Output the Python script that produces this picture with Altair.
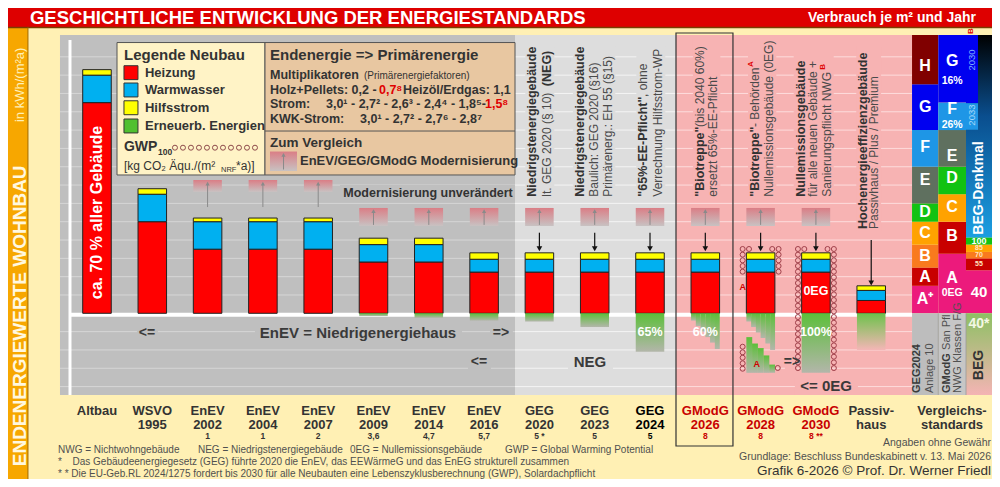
import altair as alt
import pandas as pd

FONT = "Liberation Sans"
DARK = "#333333"

# ------------------------------------------------------------------ data
slots = list(range(15))
label_top = ["Altbau", "WSVO", "EnEV", "EnEV", "EnEV", "EnEV", "EnEV", "EnEV",
             "GEG", "GEG", "GEG", "GModG", "GModG", "GModG", "Passiv-"]
label_bottom = ["", "1995", "2002", "2004", "2007", "2009", "2014", "2016",
                "2020", "2023", "2024", "2026", "2028", "2030", "haus"]
label_note = ["", "", "1", "1", "2", "3,6", "4,7", "5,7", "5 *", "5", "5", "8", "8", "8 **", ""]
label_color = [DARK] * 10 + ["#000000"] + ["#C80000"] * 3 + [DARK]

heizung = [230, 100, 70, 70, 70, 56, 56, 45, 45, 45, 45, 45, 45, 45, 14]
warmwasser = [30, 30, 30, 30, 30, 19, 19, 14, 14, 14, 14, 14, 14, 14, 11]
hilfsstrom = [6, 6, 4, 4, 4, 7, 7, 7, 7, 7, 7, 7, 7, 7, 5]
erneuerbar = [0, 0, 0, 0, 0, -3, -5, -8, -9, -15, -42, 0, 0, -65, -40]
stair_2026 = [-8, -14, -20, -26, -32, -39]
stair_2028 = [-9, -15, -21, -27, -33, -40]
stair_2028_low_top = [-26, -33, -38, -46, -56]
stair_2028_low_bottom = -65
ee_labels = [(10, "65%"), (11, "60%"), (13, "100%")]
gwp_rings = {12: 5, 13: 22}
modern_high = [2, 3, 4]
modern_low = [5, 6, 7, 8, 9, 10, 11, 12, 13]
arrow_slots = [8, 9, 10, 11, 12, 13]

geg_bounds = [0, 30, 50, 75, 100, 120, 160, 200, 250, 303.8]
geg_colors = ["#EC1A7C", "#C80000", "#F97A1E", "#FFA200", "#12C212", "#5F705F", "#1E96E6", "#0000F0", "#800000"]
geg_labels = ["A⁺", "A", "B", "C", "D", "E", "F", "G", "H"]
geg_label_y = [16, 40, 63, 88, 111, 146, 182, 225, 270]

gmodg_bounds = [0, 65, 100, 130, 160, 200, 230, 303.8]
gmodg_colors = ["#EC1A7C", "#C80000", "#FFA200", "#12C212", "#5F705F", "#1E96E6", "#0000F0"]
gmodg_labels = ["A", "B", "C", "D", "E", "F", "G"]
gmodg_label_y = [39, 84, 116, 148, 172, 222.5, 275]
gmodg_sub = [("0EG", 22.5), ("26%", 205.5), ("16%", 254)]

beg_bounds = [0, 47, 60, 67, 75, 82.5]
beg_colors = ["#EC1A7C", "#C80000", "#F97A1E", "#FFA200", "#12C212"]
beg_labels = ["40", "55", "70", "85", "100"]
beg_label_y = [23.3, 53.8, 63.6, 71, 78.8]

grid_values = [-80, -60, -40, -20, 20, 40, 60, 80, 100, 120, 140, 160, 180, 200, 220, 240, 260, 280]

# ------------------------------------------------------------------ helpers
XS = alt.Scale(domain=[-1.609, 16.184], nice=False, zero=False)
YS = alt.Scale(domain=[-180.9, 333.3], nice=False, zero=False)


def X(f="x"):
    return alt.X(f"{f}:Q", scale=XS, axis=None)


def Y(f="y"):
    return alt.Y(f"{f}:Q", scale=YS, axis=None)


def rects(rows, **mk):
    cols = ["x", "x2", "y", "y2", "c"][:len(rows[0])]
    df = pd.DataFrame(rows, columns=cols)
    ch = alt.Chart(df).mark_rect(**mk).encode(x=X(), x2="x2", y=Y(), y2="y2")
    if "c" in cols:
        ch = ch.encode(color=alt.Color("c:N", scale=None))
    return ch


def hrules(rows, **mk):
    cols = ["x", "x2", "y", "c"][:len(rows[0])]
    df = pd.DataFrame(rows, columns=cols)
    ch = alt.Chart(df).mark_rule(**mk).encode(x=X(), x2="x2", y=Y())
    if "c" in cols:
        ch = ch.encode(color=alt.Color("c:N", scale=None))
    return ch


def vrules(rows, **mk):
    cols = ["x", "y", "y2", "c"][:len(rows[0])]
    df = pd.DataFrame(rows, columns=cols)
    ch = alt.Chart(df).mark_rule(**mk).encode(x=X(), y=Y(), y2="y2")
    if "c" in cols:
        ch = ch.encode(color=alt.Color("c:N", scale=None))
    return ch


def points(rows, **mk):
    df = pd.DataFrame(rows, columns=["x", "y"])
    return alt.Chart(df).mark_point(**mk).encode(x=X(), y=Y())


def texts(rows, **mk):
    cols = ["x", "y", "t", "c"][:len(rows[0])]
    df = pd.DataFrame(rows, columns=cols)
    mk.setdefault("font", FONT)
    mk.setdefault("baseline", "middle")
    ch = alt.Chart(df).mark_text(**mk).encode(x=X(), y=Y(), text="t:N")
    if "c" in cols:
        ch = ch.encode(color=alt.Color("c:N", scale=None))
    return ch


def grad(c1, c2):
    return {"gradient": "linear", "x1": 0, "x2": 0, "y1": 0, "y2": 1,
            "stops": [{"offset": 0, "color": c1}, {"offset": 1, "color": c2}]}


GRAY, LGRAY, PINK = "#BFBFBF", "#DDDDDD", "#F7B3B3"
HALF = 0.258
C1, C2, C3 = (14.738, 15.213), (15.213, 15.714), (15.714, 16.184)

layers = []

# ------------------------------------------------------------------ backgrounds
layers.append(rects([
    (-2, 17, 312, 345, "#DE0000"),
    (-2, -1.248, -190, 312, "#F7A700"),
    (-0.669, 7.559, -89.2, 303.8, GRAY),
    (7.559, 10.47, -89.2, 303.8, LGRAY),
    (10.47, 14.738, -89.2, 303.8, PINK),
]))
layers.append(hrules([(-2, 17, 312, "#7A3C00")], strokeWidth=1.5))
layers.append(vrules([(-1.248, -190, 312, "#A06A00")], strokeWidth=1))

# gridlines (carry the y axis labels)
grid_rows = []
for v in grid_values:
    grid_rows += [(-0.669, 7.559, v, "#D6D6D6"), (7.559, 10.47, v, "#F4F4F4"), (10.47, 14.738, v, "#FDDCDC")]
grid = alt.Chart(pd.DataFrame(grid_rows, columns=["x", "x2", "y", "c"])).mark_rule(strokeWidth=1).encode(
    x=X(), x2="x2",
    y=alt.Y("y:Q", scale=YS, axis=alt.Axis(values=[0, 100, 200, 280], grid=False, domain=False, ticks=False,
                                           labelFont=FONT, labelFontSize=12.5, labelFontWeight="bold",
                                           labelColor=DARK, labelPadding=3, offset=-50, title=None, zindex=1)),
    color=alt.Color("c:N", scale=None))
layers.append(grid)

layers.append(vrules([(-0.488, -89.2, 298.4)], color="#FFFFFF", strokeWidth=3))
layers.append(hrules([(-0.488, 14.738, -1.6)], color="#FFFFFF", strokeWidth=4))

# masks behind labels (interrupt gridlines)
layers.append(rects([
    (0.723, 1.103, -31.3, -11.7, GRAY),
    (2.857, 6.6, -31.3, -11.7, GRAY),
    (7.107, 7.52, -31.3, -11.7, GRAY),
    (6.709, 7.125, -61.9, -44.4, GRAY),
    (8.517, 9.331, -61.9, -44.4, LGRAY),
    (12.44, 12.66, -61.9, -44.4, PINK),
    (12.62, 13.76, -89.2, -70.6, PINK),
    (4.394, 7.559, 122.6, 140, GRAY),
    (7.745, 8.27, 124, 290, LGRAY),
    (8.607, 9.373, 124, 291, LGRAY),
    (9.752, 10.277, 124, 291, LGRAY),
    (10.777, 11.272, 124, 300, PINK),
    (11.772, 12.284, 124, 297, PINK),
    (12.598, 13.322, 124, 282, PINK),
    (13.73, 14.178, 89, 291, PINK),
]))

# ------------------------------------------------------------------ right panel (Vergleichsstandards)
panel = []
for i, col in enumerate(geg_colors):
    panel.append((C1[0], C1[1], geg_bounds[i], geg_bounds[i + 1], col))
for i, col in enumerate(gmodg_colors):
    panel.append((C2[0], C2[1], gmodg_bounds[i], gmodg_bounds[i + 1], col))
panel += [(C1[0], C1[1], -89.2, 0, "#BDBDBD"), (C2[0], C2[1], -89.2, 0, "#C6C6C6")]
layers.append(rects(panel))
layers.append(rects([(C3[0], C3[1], 82.5, 303.8)], fill={"gradient": "linear", "x1": 0, "x2": 0, "y1": 0, "y2": 1,
                                                         "stops": [{"offset": 0, "color": "#000000"},
                                                                   {"offset": 0.4, "color": "#0A4E8E"},
                                                                   {"offset": 1, "color": "#1C9FE2"}]}))
beg_rows = [(C3[0], C3[1], beg_bounds[i], beg_bounds[i + 1], c) for i, c in enumerate(beg_colors)]
beg_rows += [(15.714, 15.931, 229.4, 303.8, "#0000F0"), (15.714, 15.931, 200.4, 229.4, "#1E96E6")]
layers.append(rects(beg_rows))
layers.append(rects([(C3[0], C3[1], -89.2, 0)], fill=grad("#8DC063", "#F4B4B4")))
layers.append(vrules([(C2[0], -89.2, 0), (C3[0], -89.2, 0)], color="#9A9A9A", strokeWidth=0.8))

# ------------------------------------------------------------------ legend boxes
layers.append(rects([(0.362, 3.038, 151, 295.6, "#FFF3C6"), (3.038, 7.559, 151, 295.6, "#E8C7A1")],
                    stroke="#555555", strokeWidth=1))
layers.append(hrules([(3.038, 7.559, 199)], color="#555555", strokeWidth=1))
layers.append(rects([
    (0.488, 0.741, 255.1, 270.3, "#FF0000"),
    (0.488, 0.741, 236.2, 251.4, "#00B0F0"),
    (0.488, 0.741, 216.8, 232.0, "#FFFF00"),
    (0.488, 0.741, 196.9, 212.1, "#50C030"),
], stroke=DARK, strokeWidth=1))

# ------------------------------------------------------------------ modernisation boxes & arrows
mod_box = [(s - HALF, s + HALF, 132.4, 145.5) for s in modern_high]
mod_box += [(s - HALF, s + HALF, 95.3, 115) for s in modern_low]
mod_box += [(3.128, 3.617, 155.3, 176.6)]
layers.append(rects(mod_box, fill=grad("#DA7E86", "#C8C2C2")))
mod_line = [(s, 116, 142) for s in modern_high] + [(s, 96.5, 111.5) for s in modern_low] + [(3.373, 157, 173)]
layers.append(vrules(mod_line, color="#8A8A8A", strokeWidth=1))
mod_tip = [(s, 141.5) for s in modern_high] + [(s, 111.5) for s in modern_low] + [(3.373, 173)]
layers.append(points(mod_tip, shape="triangle-up", filled=True, size=18, color="#8A8A8A", opacity=1))

layers.append(vrules([(s, 72, 88) for s in arrow_slots] + [(14, 35, 80)], color="#111111", strokeWidth=1.2))
layers.append(points([(s, 70.5) for s in arrow_slots] + [(14, 33)], shape="triangle-down", filled=True,
                     size=32, color="#111111", opacity=1))

# ------------------------------------------------------------------ bars
bar_rows = []
for s, h, w, hs in zip(slots, heizung, warmwasser, hilfsstrom):
    bar_rows += [(s - HALF, s + HALF, 0, h, "#FF0000"),
                 (s - HALF, s + HALF, h, h + w, "#00B0F0"),
                 (s - HALF, s + HALF, h + w, h + w + hs, "#FFFF00")]
layers.append(rects(bar_rows, stroke="#222222", strokeWidth=1))

# renewable energy (below zero)
green_rows = [(s - HALF, s + HALF, e, 0) for s, e in zip(slots, erneuerbar) if e < 0 and s != 14]
for slot, depths in [(11, stair_2026), (12, stair_2028)]:
    w = 2 * HALF / len(depths)
    for i, d in enumerate(depths):
        green_rows.append((slot - HALF + i * w, slot - HALF + (i + 1) * w + 0.003, d, 0))
w = 2 * HALF / len(stair_2028_low_top)
for i, t in enumerate(stair_2028_low_top):
    green_rows.append((12 - HALF + i * w, 12 - HALF + (i + 1) * w + 0.003, stair_2028_low_bottom, t))
layers.append(rects(green_rows, fill=grad("#5CBF3A", "#B3B6AA")))
layers.append(rects([(14 - HALF, 14 + HALF, erneuerbar[14], 0)], fill=grad("#6CC24A", "#F4B6B6")))

# GModG 2026 frame
layers.append(rects([(10.47, 11.5, -144.9, 306)], fillOpacity=0, stroke=DARK, strokeWidth=1.2))

# GWP rings
ring_rows = []
for s, n in gwp_rings.items():
    for k in range(n):
        yv = 70.2 - 6.19 * k
        ring_rows += [(s - 0.325, yv), (s + 0.325, yv)]
    ring_rows += [(s - 0.21, 70.2), (s + 0.21, 70.2)]
ring_rows += [(11.675, v) for v in [-36.5, -42.6, -48.5, -54.6, -60.5]] + [(12.31, -59.7)]
layers.append(points(ring_rows, shape="circle", filled=False, size=25, strokeWidth=1, color="#A0404A", opacity=1))
layers.append(points([(1.41 + 0.1447 * i, 180.8) for i in range(11)], shape="circle", filled=False, size=25,
                     strokeWidth=1, color="#8E4A4A", opacity=1))

# ------------------------------------------------------------------ texts
layers.append(texts([(-1.212, 322.4, "GESCHICHTLICHE ENTWICKLUNG DER ENERGIESTANDARDS")],
                    fontSize=18.5, fontWeight="bold", align="left", color="#FFFFFF"))
layers.append(texts([(15.895, 322.4, "Verbrauch je m² und Jahr")],
                    fontSize=14, fontWeight="bold", align="right", color="#FFFFFF"))
layers.append(texts([(-1.383, -167, "ENDENERGIEWERTE WOHNBAU")],
                    fontSize=19, fontWeight="bold", angle=270, align="left", color="#FFF8E0"))
layers.append(texts([(-1.383, 208.8, "in kWh/(m²a)")], fontSize=13, angle=270, align="left", color="#FFF0B8"))
layers.append(texts([(0, 110, "ca. 70 % aller Gebäude")], fontSize=16, fontWeight="bold", angle=270,
                    align="center", color="#FFFFFF"))

# legend texts
layers.append(texts([(0.488, 282, "Legende Neubau")], fontSize=15, fontWeight="bold", align="left", color=DARK))
layers.append(texts([(0.868, 262.7, "Heizung"), (0.868, 243.8, "Warmwasser"), (0.868, 224.4, "Hilfsstrom"),
                     (0.868, 204.5, "Erneuerb. Energien")], fontSize=13, fontWeight="bold", align="left", color=DARK))
layers.append(texts([(0.488, 181.6, "GWP")], fontSize=14, fontWeight="bold", align="left", color=DARK))
layers.append(texts([(1.103, 176.6, "100")], fontSize=8.5, fontWeight="bold", align="left", color=DARK))
layers.append(texts([(0.488, 160.8, "[kg CO₂ Äqu./(m²"), (2.514, 160.8, "*a)]")], fontSize=12, align="left",
                    color=DARK))
layers.append(texts([(2.242, 156.6, "NRF")], fontSize=7.5, align="left", color=DARK))

layers.append(texts([(3.128, 282, "Endenergie => Primärenergie")], fontSize=15, fontWeight="bold", align="left",
                    color=DARK))
layers.append(texts([(3.128, 260.2, "Multiplikatoren")], fontSize=12.5, fontWeight="bold", align="left", color=DARK))
layers.append(texts([
    (3.128, 243.8, "Holz+Pellets: 0,2 -", DARK),
    (5.099, 243.8, "0,7⁸", "#E00000"),
    (5.533, 243.8, "Heizöl/Erdgas: 1,1", DARK),
    (3.128, 228, "Strom:", DARK),
    (4.141, 228, "3,0¹ - 2,7² - 2,6³ - 2,4⁴ - 1,8⁵-", DARK),
    (7.016, 228, "1,5⁸", "#E00000"),
    (3.128, 212.1, "KWK-Strom:", DARK),
    (4.756, 212.1, "3,0¹ - 2,7² - 2,7⁶ - 2,8⁷", DARK),
], fontSize=12.5, fontWeight="bold", align="left"))
layers.append(texts([(4.828, 259.1, "(Primärenergiefaktoren)")], fontSize=10, align="left", color=DARK))
layers.append(texts([(3.128, 185.9, "Zum Vergleich")], fontSize=13.5, fontWeight="bold", align="left", color=DARK))
layers.append(texts([(3.671, 166.6, "EnEV/GEG/GModG Modernisierung")], fontSize=13, fontWeight="bold",
                    align="left", color=DARK))

# plot annotations
layers.append(texts([(5.986, 131.3, "Modernisierung unverändert")], fontSize=12.5, fontWeight="bold", color=DARK))
layers.append(texts([(0.904, -21.5, "<="), (7.306, -21.5, "=>"), (6.908, -53.2, "<="), (12.568, -53.2, "=>")],
                    fontSize=14, fontWeight="bold", color="#3A3A3A"))
layers.append(texts([(4.72, -21.5, "EnEV = Niedrigenergiehaus"), (8.915, -53.2, "NEG"), (13.183, -79.9, "<=  0EG")],
                    fontSize=15, fontWeight="bold", color="#3A3A3A"))
layers.append(texts([(s, -20.4, t) for s, t in ee_labels] + [(13, 24, "0EG")], fontSize=12.5, fontWeight="bold",
                    color="#FFFFFF"))
layers.append(texts([(11.676, 29, "A"), (11.93, -55.3, "A")], fontSize=9, fontWeight="bold", color="#D00000"))

# rotated column descriptions
layers.append(texts([
    (7.872, 127.3, "Niedrigstenergiegebäude"),
    (8.143, 248, "(NEG)"),
    (8.734, 127.3, "Niedrigstenergiegebäude"),
    (9.879, 127.3, "\"65%-EE-Pflicht\""),
    (10.904, 127.3, "\"Biotreppe\""),
    (11.899, 127.3, "\"Biotreppe\""),
    (12.725, 127.3, "Nullemissionsgebäude"),
    (13.857, 92, "Hochenergieeffizienzgebäude"),
], fontSize=12.5, fontWeight="bold", angle=270, align="left", color=DARK))
layers.append(texts([
    (8.143, 127.3, "lt. GEG 2020 (§ 10)"),
    (8.993, 127.3, "Baulich: GEG 2020 (§16)"),
    (9.246, 127.3, "Primärenerg.: EH 55 (§15)"),
    (9.879, 236.1, ", ohne"),
    (10.15, 127.3, "Verrechnung Hilfsstrom-WP"),
    (10.904, 203.4, " (bis 2040 60%)"),
    (11.145, 127.3, "ersetzt 65%-EE-Pflicht"),
    (11.899, 203.4, " - Behörden"),
    (12.157, 127.3, "Nullemissionsgebäude (0EG)"),
    (12.953, 127.3, "für alle neuen Gebäude +"),
    (13.195, 127.3, "Sanierungspflicht NWG"),
    (14.051, 92, "Passivhaus / Plus / Premium"),
], fontSize=12, angle=270, align="left", color="#4A4A4A"))
layers.append(texts([(11.827, 272, "A"), (13.123, 269, "B"), (15.805, 308.2, "B")], fontSize=8, fontWeight="bold",
                    angle=270, align="center", color="#E00000"))

# right panel texts
rp = [(14.975, y, t) for t, y in zip(geg_labels, geg_label_y)]
rp += [(15.463, y, t) for t, y in zip(gmodg_labels, gmodg_label_y)]
layers.append(texts(rp, fontSize=16, fontWeight="bold", color="#FFFFFF"))
layers.append(texts([(15.463, y, t) for t, y in gmodg_sub], fontSize=10.5, fontWeight="bold", color="#FFFFFF"))
layers.append(texts([(15.823, 276.5, "2030", "#7FB0FF"), (15.823, 216.4, "2033", "#A8D8F8")],
                    fontSize=9.5, angle=270, align="center"))
layers.append(texts([(15.949, 136.8, "BEG-Denkmal")], fontSize=14, fontWeight="bold", angle=270, align="center",
                    color="#FFFFFF"))
layers.append(texts([(15.949, beg_label_y[0], beg_labels[0])], fontSize=15, fontWeight="bold", color="#FFFFFF"))
layers.append(texts([(15.949, y, t) for t, y in zip(beg_labels[1:4], beg_label_y[1:4])], fontSize=7,
                    fontWeight="bold", color="#FFE6C0"))
layers.append(texts([(15.949, beg_label_y[4], beg_labels[4])], fontSize=9, fontWeight="bold", color="#FFFFFF"))
layers.append(texts([(15.949, -11.5, "40*")], fontSize=14, fontWeight="bold", color="#F4F8E4"))
layers.append(texts([(15.949, -56.4, "BEG")], fontSize=14, fontWeight="bold", angle=270, align="center", color=DARK))
layers.append(texts([(14.822, -87, "GEG2024"), (15.365, -87, "GModG")], fontSize=11, fontWeight="bold", angle=270,
                    align="left", color="#3A3A3A"))
layers.append(texts([(15.063, -87, "Anlage 10"), (15.365, -40, "San Pfl"), (15.575, -87, "NWG Klassen F/G")],
                    fontSize=11, angle=270, align="left", color="#505050"))

# category labels
cat1 = [(s, -106.2, t, c) for s, t, c in zip(slots, label_top, label_color)] + [(15.461, -106.2, "Vergleichs-", DARK)]
cat2 = [(s, -121.9, t, c) for s, t, c in zip(slots, label_bottom, label_color) if t] + [(15.461, -121.9, "standards", DARK)]
cat3 = [(s, -134.5, t, c) for s, t, c in zip(slots, label_note, label_color) if t]
layers.append(texts(cat1 + cat2, fontSize=13, fontWeight="bold"))
layers.append(texts(cat3, fontSize=8.5, fontWeight="bold"))

# footnotes
layers.append(texts([
    (-0.705, -149.2, "NWG = Nichtwohngebäude"),
    (1.826, -149.2, "NEG = Niedrigstenergiegebäude"),
    (4.575, -149.2, "0EG = Nullemissionsgebäude"),
    (7.378, -149.2, "GWP = Global Warming Potential"),
    (-0.705, -162.3, "*"),
    (-0.443, -162.3, "Das Gebäudeenergiegesetz (GEG) führte 2020 die EnEV, das EEWärmeG und das EnEG strukturell zusammen"),
    (-0.705, -174.9, "* * Die EU-Geb.RL 2024/1275 fordert bis 2030 für alle Neubauten eine Lebenszyklusberechnung (GWP), Solardachpflicht"),
], fontSize=10, align="left", color="#505050"))
layers.append(texts([(16.166, -141.6, "Angaben ohne Gewähr"),
                     (16.166, -156.4, "Grundlage: Beschluss Bundeskabinett v. 13. Mai 2026")],
                    fontSize=10.5, align="right", color="#505050"))
layers.append(texts([(16.166, -172.2, "Grafik 6-2026  © Prof. Dr. Werner Friedl")], fontSize=13.5, align="right",
                    color=DARK))

chart = alt.layer(*layers).properties(
    width=984, height=471, padding=0,
    autosize=alt.AutoSizeParams(type="none"),
    background="#FFF0B4",
).configure_view(stroke=None)

chart.save("out.html", embed_options={"renderer": "svg", "actions": False})
